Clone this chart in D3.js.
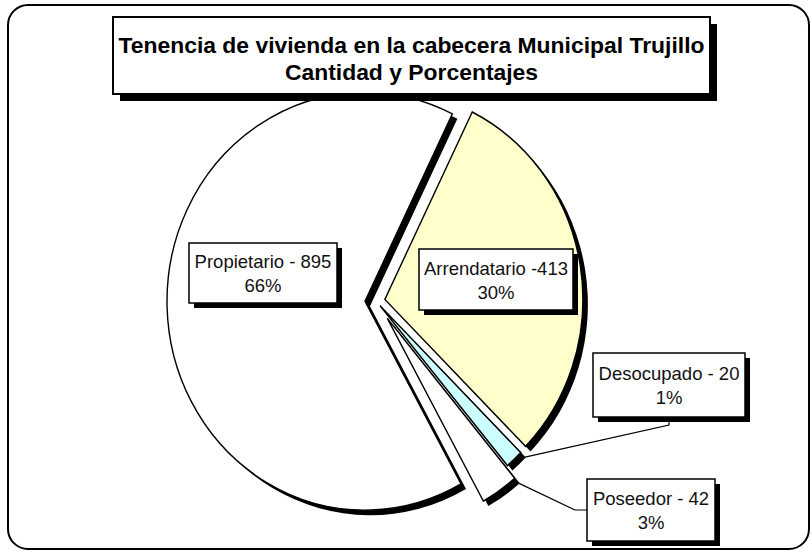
<!DOCTYPE html>
<html>
<head>
<meta charset="utf-8">
<script src="https://cdn.jsdelivr.net/npm/d3@7"></script>
<style>
  html, body { margin: 0; padding: 0; background: #fff; }
  svg { display: block; font-family: "Liberation Sans", Arial, sans-serif; }
</style>
</head>
<body>
<svg id="chart" width="812" height="552"></svg>
<script>
// Data
const categories = ['Propietario', 'Arrendatario', 'Desocupado', 'Poseedor']
const values = [895, 413, 20, 42]
const percentLabels = ['66%', '30%', '1%', '3%']
const valueLabels = ['Propietario - 895', 'Arrendatario -413', 'Desocupado - 20', 'Poseedor - 42']
const titleLines = ['Tenencia de vivienda en la cabecera Municipal Trujillo', 'Cantidad y Porcentajes']

// Styling / layout
const fills = ['#ffffff', '#ffffcc', '#ccffff', '#ffffff']
const explode = [11, 9, 6, 20]
const radius = 198
const stretchY = 1.055        // the picture is a bit taller than wide
const center = [376, 301]
const firstSliceAngle = -209  // degrees, clockwise from 12 o'clock
const shadow = 5

// label boxes: [x, y, w, h]
const labelBoxes = [
  [189, 243, 148, 60],
  [419, 249, 154, 61],
  [593, 353, 152, 64],
  [587, 479, 128, 62]
]

const svg = d3.select('#chart')

// outer frame
svg.append('rect')
  .attr('x', 8).attr('y', 5).attr('width', 801).attr('height', 544)
  .attr('rx', 20).attr('ry', 20)
  .attr('fill', '#fff').attr('stroke', '#000').attr('stroke-width', 2)

const toRad = d => d * Math.PI / 180
const pie = d3.pie().sort(null).value(d => d)
  .startAngle(toRad(firstSliceAngle))
  .endAngle(toRad(firstSliceAngle + 360))
const arcs = pie(values)
const arc = d3.arc().innerRadius(0).outerRadius(radius)

// offset of an exploded slice, in screen pixels relative to center
function sliceOffset(a, i) {
  const mid = (a.startAngle + a.endAngle) / 2
  return [explode[i] * Math.sin(mid), -explode[i] * Math.cos(mid) * stretchY]
}

function pointOnRim(a, i, ang, r) {
  const o = sliceOffset(a, i)
  return [center[0] + o[0] + r * Math.sin(ang), center[1] + o[1] - r * Math.cos(ang) * stretchY]
}

const pieG = svg.append('g')

// shadows first, then slices
pieG.selectAll('path.shadow')
  .data(arcs)
  .join('path')
  .attr('class', 'shadow')
  .attr('transform', (d, i) => {
    const o = sliceOffset(d, i)
    return `translate(${center[0] + o[0] + shadow},${center[1] + o[1] + shadow}) scale(1,${stretchY})`
  })
  .attr('d', arc)
  .attr('fill', '#000')

pieG.selectAll('path.slice')
  .data(arcs)
  .join('path')
  .attr('class', 'slice')
  .attr('transform', (d, i) => {
    const o = sliceOffset(d, i)
    return `translate(${center[0] + o[0]},${center[1] + o[1]}) scale(1,${stretchY})`
  })
  .attr('d', arc)
  .attr('fill', (d, i) => fills[i])
  .attr('stroke', '#000')
  .attr('stroke-width', 1.4)
  .attr('stroke-linejoin', 'miter')

// leader lines for the two thin slices
const leaders = [
  null,
  null,
  a => {
    const p = pointOnRim(a, 2, a.startAngle, radius + 6)
    const b = labelBoxes[2]
    const x = b[0] + b[2] / 2
    return [p, [x, b[1] + b[3] + 8], [x, b[1] + b[3]]]
  },
  a => {
    const p = pointOnRim(a, 3, a.startAngle, radius + 6)
    const b = labelBoxes[3]
    const y = b[1] + b[3] / 2
    return [p, [b[0] - 12, y], [b[0], y]]
  }
]
const line = d3.line()
arcs.forEach((a, i) => {
  if (!leaders[i]) return
  svg.append('path')
    .attr('d', line(leaders[i](a)))
    .attr('fill', 'none').attr('stroke', '#000').attr('stroke-width', 1.2)
})

// data labels
const lab = svg.selectAll('g.label')
  .data(categories)
  .join('g')
  .attr('class', 'label')
  .attr('transform', (d, i) => `translate(${labelBoxes[i][0]},${labelBoxes[i][1]})`)

lab.append('rect')
  .attr('x', shadow).attr('y', shadow)
  .attr('width', (d, i) => labelBoxes[i][2]).attr('height', (d, i) => labelBoxes[i][3])
  .attr('fill', '#000')
lab.append('rect')
  .attr('width', (d, i) => labelBoxes[i][2]).attr('height', (d, i) => labelBoxes[i][3])
  .attr('fill', '#fff').attr('stroke', '#000').attr('stroke-width', 1.5)
lab.append('text')
  .attr('x', (d, i) => labelBoxes[i][2] / 2)
  .attr('y', (d, i) => labelBoxes[i][3] / 2 - 5)
  .attr('text-anchor', 'middle')
  .attr('font-size', '18.5px').attr('fill', '#111')
  .text((d, i) => valueLabels[i])
lab.append('text')
  .attr('x', (d, i) => labelBoxes[i][2] / 2)
  .attr('y', (d, i) => labelBoxes[i][3] / 2 + 19)
  .attr('text-anchor', 'middle')
  .attr('font-size', '18.5px').attr('fill', '#111')
  .text((d, i) => percentLabels[i])

// title box
const tb = { x: 113, y: 17, w: 597, h: 77 }
svg.append('rect')
  .attr('x', tb.x + 7).attr('y', tb.y + 7).attr('width', tb.w).attr('height', tb.h)
  .attr('fill', '#000')
svg.append('rect')
  .attr('x', tb.x).attr('y', tb.y).attr('width', tb.w).attr('height', tb.h)
  .attr('fill', '#fff').attr('stroke', '#000').attr('stroke-width', 2)
svg.append('g').selectAll('text')
  .data(titleLines)
  .join('text')
  .attr('x', tb.x + tb.w / 2)
  .attr('y', (d, i) => tb.y + 36 + i * 27)
  .attr('text-anchor', 'middle')
  .attr('font-size', '22.9px').attr('font-weight', 'bold').attr('fill', '#000')
  .text(d => d)
</script>
</body>
</html>
